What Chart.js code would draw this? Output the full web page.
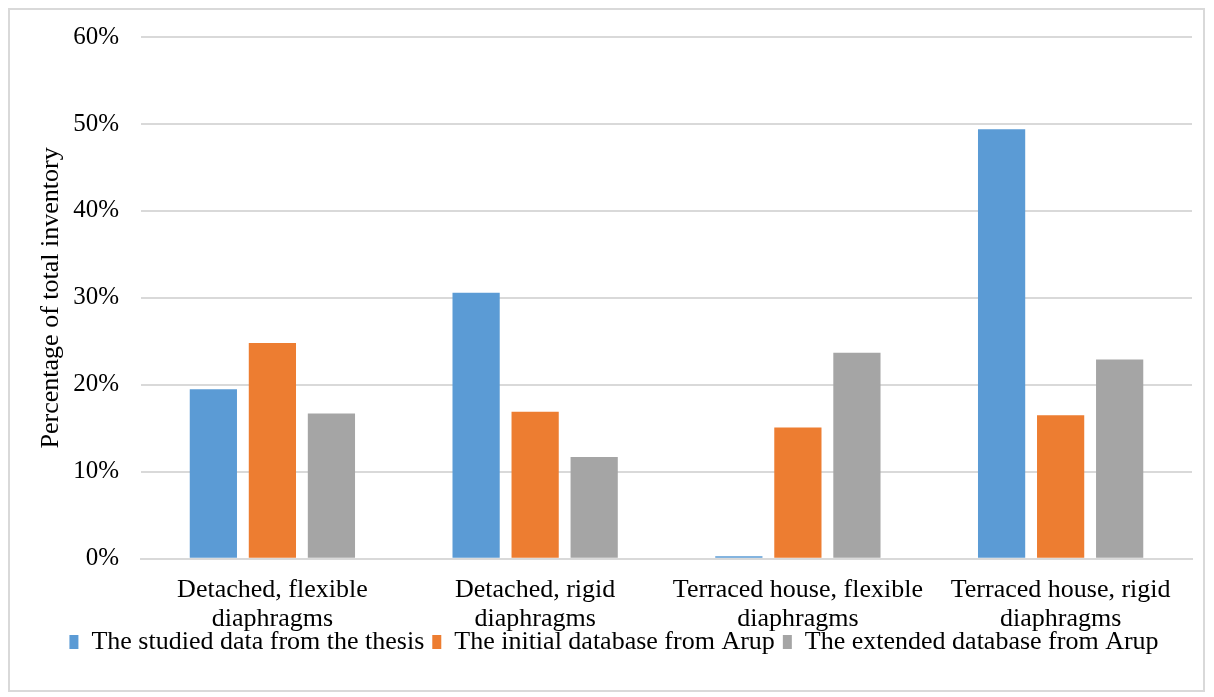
<!DOCTYPE html>
<html>
<head>
<meta charset="utf-8">
<script src="https://cdn.jsdelivr.net/npm/chart.js@4"></script>
<style>
  html, body { margin: 0; padding: 0; background: #fff; }
  #frame {
    position: absolute; left: 8px; top: 8px;
    width: 1197px; height: 684px;
    border: 2px solid #d9d9d9; box-sizing: border-box;
  }
  #wrap { position: absolute; left: 0; top: 0; width: 1214px; height: 697px; }
</style>
</head>
<body>
<div id="frame"></div>
<div id="wrap"><canvas id="chart" width="1214" height="697"></canvas></div>
<script>
// categories and series (values in %)
const categories = [
  ["Detached, flexible", "diaphragms"],
  ["Detached, rigid", "diaphragms"],
  ["Terraced house, flexible", "diaphragms"],
  ["Terraced house, rigid", "diaphragms"]
];
const studiedThesis = [19.5, 30.6, 0.3, 49.4];
const initialArup = [24.8, 16.9, 15.1, 16.5];
const extendedArup = [16.7, 11.7, 23.7, 22.9];
const yTicks = [0, 10, 20, 30, 40, 50, 60];

const serif = "'Liberation Serif', 'Times New Roman', serif";

// pull the legend up closer to the category labels
const legendLift = {
  id: "legendLift",
  afterLayout: function (chart) {
    chart.legend.top -= 22;
    chart.legend.bottom -= 22;
  }
};

window.addEventListener("DOMContentLoaded", function () {
  const ctx = document.getElementById("chart").getContext("2d");

  new Chart(ctx, {
    type: "bar",
    data: {
      labels: categories,
      datasets: [
        { label: "The studied data from the thesis", data: studiedThesis, backgroundColor: "#5b9bd5" },
        { label: "The initial database from Arup", data: initialArup, backgroundColor: "#ed7d31" },
        { label: "The extended database from Arup", data: extendedArup, backgroundColor: "#a5a5a5" }
      ]
    },
    plugins: [legendLift],
    options: {
      responsive: false,
      animation: false,
      categoryPercentage: 0.674,
      barPercentage: 0.8,
      layout: { padding: { left: 36, right: 22, top: 9, bottom: 10 } },
      plugins: {
        tooltip: { enabled: false },
        legend: {
          position: "bottom",
          labels: {
            color: "#000",
            font: { family: serif, size: 26 },
            boxWidth: 9,
            boxHeight: 14,
            padding: 8
          }
        }
      },
      scales: {
        x: {
          grid: { display: false },
          border: { color: "#d9d9d9", width: 2 },
          ticks: { color: "#000", font: { family: serif, size: 26, lineHeight: 1.12 }, maxRotation: 0, padding: 9 }
        },
        y: {
          min: 0,
          max: 60,
          afterBuildTicks: function (axis) {
            axis.ticks = yTicks.map(function (v) { return { value: v }; });
          },
          grid: { color: "#d9d9d9", lineWidth: 2, drawTicks: false },
          border: { display: false },
          ticks: {
            color: "#000",
            font: { family: serif, size: 25 },
            padding: 22,
            callback: function (v) { return v + "%"; }
          },
          title: {
            display: true,
            text: "Percentage of total inventory",
            color: "#000",
            font: { family: serif, size: 26 },
            padding: { top: 0, bottom: -16 }
          }
        }
      }
    }
  });
});
</script>
</body>
</html>
